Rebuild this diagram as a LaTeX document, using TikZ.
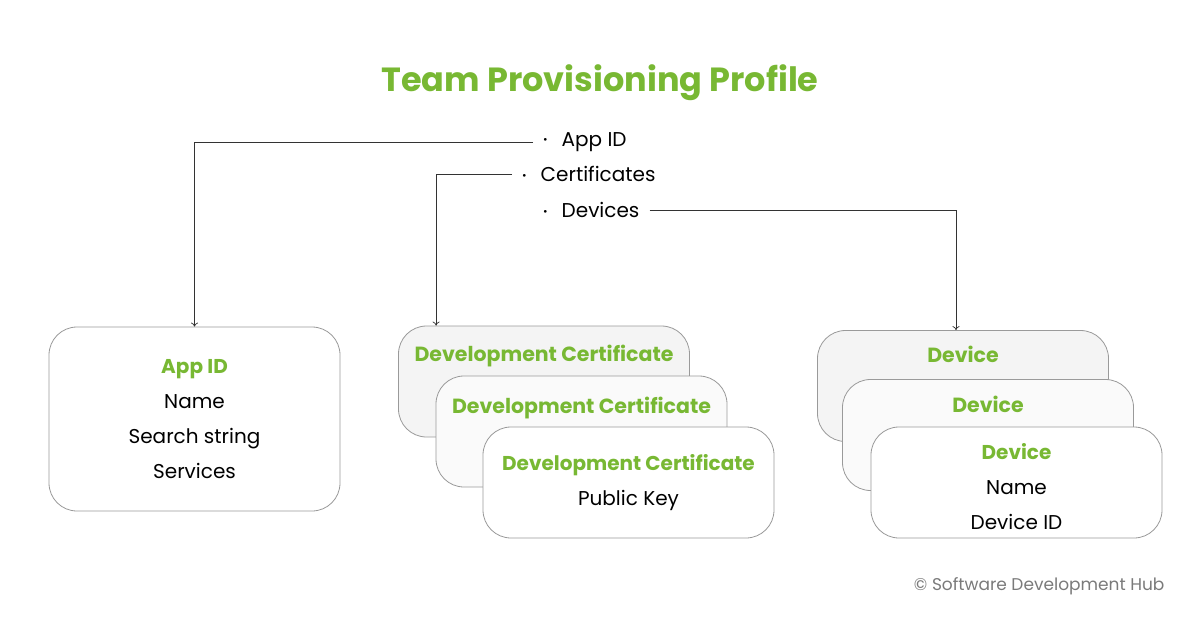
\documentclass[tikz,border=0pt]{standalone}
\usepackage{fontspec}
\setmainfont{Poppins}
\usetikzlibrary{arrows.meta,positioning}
\definecolor{hubgreen}{HTML}{78B833}
\definecolor{edgegray}{HTML}{9A9A9A}
\definecolor{cardback}{HTML}{F4F4F4}
\definecolor{cardmid}{HTML}{FAFAFA}
\newcommand{\hd}[1]{\textcolor{hubgreen}{\bfseries #1}}
\newcommand{\bul}{\raisebox{0.12em}{\fontsize{11}{11}\selectfont\textbullet}\hspace{14pt}}

\begin{document}
\begin{tikzpicture}[x=1pt, y=-1pt,
  card/.style={draw=edgegray, rounded corners=28pt, minimum width=291pt,
    minimum height=111pt, fill=white, align=center, line width=0.8pt,
    font=\fontsize{20}{35}\selectfont},
  bigcard/.style={card, minimum height=184pt},
  head/.style={text=hubgreen, font=\fontsize{20.5}{24}\bfseries\selectfont},
  item/.style={anchor=west, inner sep=10pt, font=\fontsize{20}{24}\selectfont},
  link/.style={-{To[length=4pt,width=7pt]}, line width=0.7pt, draw=black!80}
]
\useasboundingbox (0,0) rectangle (1200,626);

\node[font=\fontsize{33.5}{38}\bfseries\selectfont, text=hubgreen] (title) at (600,83) {Team Provisioning Profile};

% profile contents
\node[item] (itApp) at (533,142) {\bul App ID};
\node[item] (itCert) at (512,174) {\bul Certificates};
\node[item] (itDev) at (533,210) {\bul Devices};

% app id
\node[bigcard] (appid) at (194.5,419) {\hd{App ID}\\Name\\Search string\\Services};

% certificates
\node[card, fill=cardback] (certA) at (544,381.5) {};
\node[head] (certAt) at ([yshift=-30pt]certA.north) {Development Certificate};
\node[card, fill=cardmid] (certB) at (581.5,431.5) {};
\node[head] (certBt) at ([yshift=-32pt]certB.north) {Development Certificate};
\node[card] (certC) at (628.5,482.5) {\hd{Development Certificate}\\Public Key};

% devices
\node[card, fill=cardback] (devA) at (963,386) {};
\node[head] (devAt) at ([yshift=-24pt]devA.north) {Device};
\node[card, fill=cardmid] (devB) at (988,435) {};
\node[head] (devBt) at ([yshift=-25pt]devB.north) {Device};
\node[card] (devC) at (1016.5,482.5) {\rule{0pt}{24pt}\hd{Device}\\Name\\Device ID};

\coordinate (certIn) at ([xshift=38pt]certA.north west);
\coordinate (devIn) at ([xshift=-7pt]devA.north);
\draw[link] (itApp.west) -| (appid.north);
\draw[link] (itCert.west) -| (certIn);
\draw[link] (itDev.east) -| (devIn);

\node[anchor=east, text=black!52, font=\fontsize{17}{20}\selectfont] (credit) at (1168,586) {© Software Development Hub};
\end{tikzpicture}
\end{document}
